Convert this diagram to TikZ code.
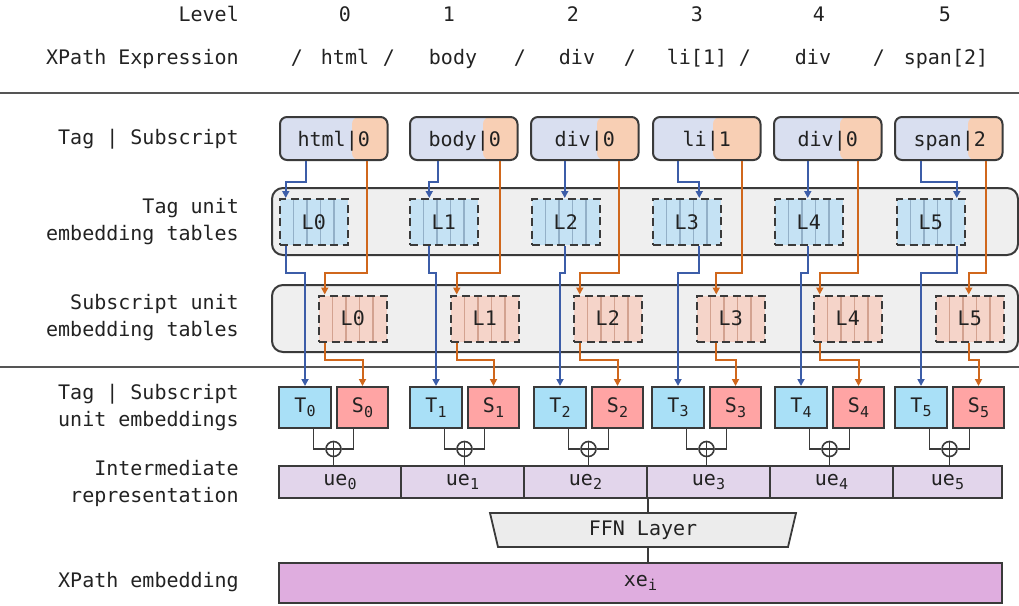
\documentclass[tikz,border=0pt]{standalone}
\usepackage{fontspec}
\setmainfont{DejaVu Sans Mono}
\usetikzlibrary{arrows.meta,calc}
\definecolor{txt}{HTML}{222222}
\definecolor{bdr}{HTML}{3A3A3A}
\definecolor{sepc}{HTML}{555555}
\definecolor{tagc}{HTML}{D9DFF0}
\definecolor{subc}{HTML}{F8CFB4}
\definecolor{tabc}{HTML}{EFEFEF}
\definecolor{lblue}{HTML}{C5E2F4}
\definecolor{lblueline}{HTML}{93B0C8}
\definecolor{lpeach}{HTML}{F5D4C9}
\definecolor{lpeachline}{HTML}{D3A290}
\definecolor{tcol}{HTML}{A9E0F7}
\definecolor{scol}{HTML}{FFA4A4}
\definecolor{uecol}{HTML}{E2D5EB}
\definecolor{ffncol}{HTML}{ECECEC}
\definecolor{xecol}{HTML}{DFADDF}
\definecolor{bluearr}{HTML}{3C5DA8}
\definecolor{orarr}{HTML}{D0671C}
\newcommand{\mysub}[1]{\raisebox{-4.5pt}{\fontsize{15}{15}\selectfont #1}}
\begin{document}
\begin{tikzpicture}[x=1pt,y=-1pt,
  every node/.style={font=\fontsize{20}{27}\selectfont, text=txt},
  lbl/.style={anchor=east, align=right, inner sep=0},
  topbox/.style={draw=bdr, line width=2, rounded corners=7, fill=tagc, minimum width=107.5, minimum height=43, inner sep=0},
  tablebox/.style={draw=bdr, line width=2, rounded corners=11, fill=tabc, minimum width=746, minimum height=67, inner sep=0},
  lboxbase/.style={draw=bdr, line width=2, dash pattern=on 8pt off 4.5pt, minimum width=67.5, minimum height=46, inner sep=0},
  colline/.style={solid, line width=1.4},
  bcols/.style={path picture={\foreach \c in {1,2,3,4}
      \draw[colline, #1] ([xshift=\c*13.5]path picture bounding box.north west) -- ([xshift=\c*13.5]path picture bounding box.south west);}},
  tbox/.style={draw=bdr, line width=2, fill=tcol, minimum width=52, minimum height=41, inner sep=0},
  sbox/.style={draw=bdr, line width=2, fill=scol, minimum width=51, minimum height=41, inner sep=0},
  uebox/.style={draw=bdr, line width=1.8, fill=uecol, minimum height=32, inner sep=0},
  pluscirc/.style={circle, draw=bdr, line width=1.6, fill=white, minimum size=15, inner sep=0,
    path picture={\draw[bdr, line width=1.4] (path picture bounding box.north) -- (path picture bounding box.south)
      (path picture bounding box.west) -- (path picture bounding box.east);}},
  conn/.style={draw=bdr, line width=1.9},
  barrow/.style={draw=bluearr, line width=2, -{Triangle[length=7pt,width=7pt]}},
  oarrow/.style={draw=orarr, line width=2, -{Triangle[length=7pt,width=7pt]}},
  sepline/.style={draw=sepc, line width=1.8}]
\useasboundingbox (0,0) rectangle (1019,605);

% header
\node[anchor=base east, inner sep=0] (hlevel) at (239,21) {Level};
\foreach \x/\n in {345/0,449/1,573/2,697/3,819/4,945/5}
  \node[anchor=base, inner sep=0] (lv\n) at (\x,21) {\n};
\node[anchor=base east, inner sep=0] (hxp) at (239,64) {XPath Expression};
\foreach \x [count=\k] in {297,389,520,630,745,879}
  \node[anchor=base, inner sep=0] (sl\k) at (\x,64) {/};
\foreach \x/\t [count=\k] in {345/html,453/body,577/div,697/{li[1]},813/div,946/{span[2]}}
  \node[anchor=base, inner sep=0] (xw\k) at (\x,64) {\t};
\draw[sepline] (0,93) -- (1019,93);
\draw[sepline] (0,367) -- (1019,367);

% left labels
\node[lbl] (lab1) at (239,139) {Tag | Subscript};
\node[lbl] (lab2) at (239,221.5) {Tag unit\\embedding tables};
\node[lbl] (lab3) at (239,317.5) {Subscript unit\\embedding tables};
\node[lbl] (lab4) at (239,408) {Tag | Subscript\\unit embeddings};
\node[lbl] (lab5) at (239,483) {Intermediate\\representation};
\node[lbl] (lab6) at (239,582) {XPath embedding};

% tables
\node[tablebox] (ttab) at (645,221.5) {};
\node[tablebox] (stab) at (645,318.5) {};

% top boxes
\foreach \i/\x/\xs/\tg/\sb in {0/280/352/html/0,1/410/483/body/0,2/531/597/div/0,3/653/713/li/1,4/774/840/div/0,5/895/968/span/2} {
  \node[topbox, path picture={\fill[subc] ([xshift=\xs-\x]path picture bounding box.north west) rectangle (path picture bounding box.south east);}] (tb\i) at (\x+53.75,138.5) {};
  \node[anchor=base east, inner sep=0] (tt\i) at (\xs+18.06,146) {\tg|\sb};
}

% tag unit embedding tables (blue)
\foreach \i/\x in {0/280,1/410,2/532,3/653,4/775,5/897}
  \node[lboxbase, fill=lblue, bcols=lblueline] (lb\i) at (\x+33.75,222) {L\i};
% subscript unit embedding tables (peach)
\foreach \i/\x in {0/319,1/451,2/574,3/697,4/814,5/936}
  \node[lboxbase, fill=lpeach, bcols=lpeachline] (pb\i) at (\x+33.75,318.5) {L\i};

% T / S boxes and plus
\foreach \i/\x in {0/279,1/410,2/534,3/652,4/775,5/895} {
  \node[tbox] (T\i) at (\x+26,407.5) {T\mysub{\i}};
  \node[sbox] (S\i) at (\x+83.5,407.5) {S\mysub{\i}};
  \node[pluscirc] (pl\i) at (\x+54.5,449) {};
}

% intermediate representation
\foreach \i/\a/\b in {0/279/401,1/401/524,2/524/647,3/647/770,4/770/893,5/893/1002}
  \node[uebox, minimum width={\b-\a}] (ue\i) at ({(\a+\b)/2},482) {ue\mysub{\i}};

% FFN and xe
\filldraw[draw=bdr, line width=1.8, fill=ffncol] (490,513) -- (796,513) -- (788,547) -- (498,547) -- cycle;
\node[minimum width=290, minimum height=34, inner sep=0] (ffn) at (643,530) {FFN Layer};
\node[draw=bdr, line width=2, fill=xecol, minimum width=723, minimum height=40, inner sep=0] (xe) at (640.5,583) {xe\mysub{i}};

% connectors
\foreach \i/\bt/\bk/\ot/\ok in {0/27/0/-22/0,1/29/1/-19/0,2/35/2/-21/0,3/26/3/-20/1,4/35/2/-25/0,5/27/4/-18/2} {
  \draw[barrow] ([xshift=\bt]tb\i.south west) -- ++(0,21) -| ([xshift={6.75+13.5*\bk}]lb\i.north west);
  \draw[barrow] ([xshift={6.75+13.5*\bk}]lb\i.south west) -- ++(0,27) -| (T\i.north);
  \draw[oarrow] ([xshift=\ot]tb\i.south east) -- ++(0,112) -| ([xshift={6.75+13.5*\ok}]pb\i.north west);
  \draw[oarrow] ([xshift={6.75+13.5*\ok}]pb\i.south west) -- ++(0,17) -| (S\i.north);
  \draw[conn] ([xshift=8.5]T\i.south) |- (pl\i.west);
  \draw[conn] ([xshift=-9]S\i.south) |- (pl\i.east);
  \draw[conn] (pl\i.south) -- (pl\i.south |- ue0.north);
}
\draw[conn] (ue2.south east) -- (ue2.south east |- ffn.north);
\draw[conn] (ffn.south -| ue2.south east) -- (xe.north -| ue2.south east);
\end{tikzpicture}
\end{document}
